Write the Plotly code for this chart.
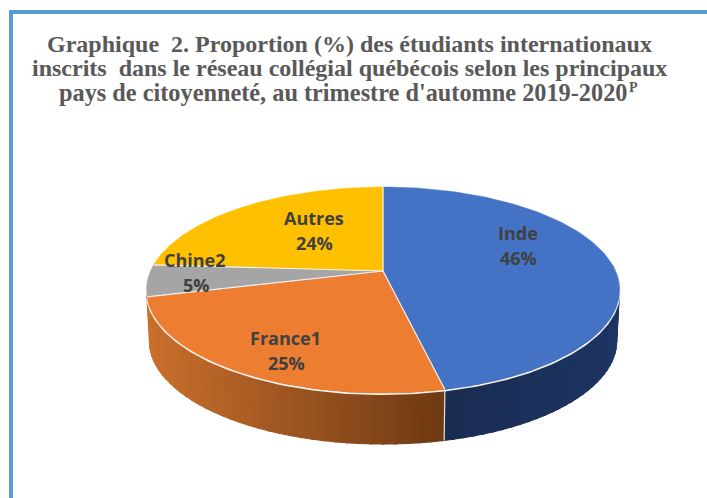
import numpy as np
import plotly.graph_objects as go

categories = ["Inde", "France1", "Chine2", "Autres"]
values = [46.5, 24.5, 5.0, 24.0]
labels_pct = ["46%", "25%", "5%", "24%"]
colors = ["#4472C4", "#ED7D31", "#A5A5A5", "#FFC000"]
name_pos = [(518, 233), (285, 338), (195, 260), (314, 218)]
pct_pos = [(518, 258), (286, 363), (196, 285), (314, 243)]
title_lines = [
    "Graphique  2. Proportion (%) des étudiants internationaux",
    "inscrits  dans le réseau collégial québécois selon les principaux",
    "pays de citoyenneté, au trimestre d'automne 2019-2020",
]
title_note = "P"
W, H = 707, 498
CX, CY, A, B, K = 383.0, 271.0, 232.5, 99.5, 0.185
DEPTH = 51.0


def rim(theta, d=0.0):
    u, v = np.sin(theta), np.cos(theta)
    w = 1 + K * v
    s = 1 - 0.012 * d / DEPTH
    x = CX + s * A * u / w
    y = CY - B * v / w + d
    return x, H - y


fig = go.Figure()


def poly(xs, ys, fill, lw=0.5):
    fig.add_trace(go.Scatter(
        x=list(xs), y=list(ys), mode="lines", fill="toself", fillcolor=fill,
        line=dict(color=fill, width=lw), hoverinfo="skip", showlegend=False))


def mix(a, b, t):
    ca = [int(a[i:i + 2], 16) for i in (1, 3, 5)]
    cb = [int(b[i:i + 2], 16) for i in (1, 3, 5)]
    return "rgb(%d,%d,%d)" % tuple(round(p + (q - p) * t) for p, q in zip(ca, cb))


total = sum(values)
edges = 2 * np.pi * np.cumsum([0] + values) / total

# side walls of the two slices that face the viewer, as thin shaded strips
wall_styles = {0: ("#1D3563", "#192C51"), 1: ("#C96F2C", "#6E3914")}
for i, (c0, c1) in wall_styles.items():
    t0, t1 = max(edges[i], np.pi / 2 - 0.05), edges[i + 1]
    n = 36
    ts = np.linspace(t0, t1, n + 1)
    for j in range(n):
        seg = np.linspace(ts[j], ts[j + 1] + 0.01, 4)
        x1, y1 = rim(seg)
        x2, y2 = rim(seg[::-1], DEPTH)
        xm = rim((ts[j] + ts[j + 1]) / 2)[0]
        if i == 1:
            color = mix(c0, c1, (xm - 148) / (443 - 148))
        else:
            color = mix(c1, c0, (xm - 443) / (619 - 443))
        poly(np.r_[x1, x2], np.r_[y1, y2], color, 1)

# white separation along the front rim and between the two walls
ts = np.linspace(np.pi / 2 - 0.05, edges[2], 200)
x, y = rim(ts)
fig.add_trace(go.Scatter(x=x, y=y - 1, mode="lines", line=dict(color="#F6F1EC", width=2),
                         hoverinfo="skip", showlegend=False))
xa, ya = rim(np.array([edges[1]]))
xb, yb = rim(np.array([edges[1]]), DEPTH)
fig.add_trace(go.Scatter(x=[xa[0], xb[0]], y=[ya[0], yb[0]], mode="lines",
                         line=dict(color="#E8E0DA", width=1.2), hoverinfo="skip", showlegend=False))

# top faces
ax, ay = CX, H - CY
for i, c in enumerate(colors):
    ts = np.linspace(edges[i], edges[i + 1], 120)
    x, y = rim(ts)
    poly(np.r_[ax, x, ax], np.r_[ay, y, ay], c)
for i in range(len(values)):
    x, y = rim(np.array([edges[i]]))
    fig.add_trace(go.Scatter(x=[ax, x[0]], y=[ay, y[0]], mode="lines",
                             line=dict(color="#F2F2F2", width=1.2), hoverinfo="skip", showlegend=False))

annotations = []
for texts, positions in ((categories, name_pos), (labels_pct, pct_pos)):
    for t, (lx, ly) in zip(texts, positions):
        annotations.append(dict(
            x=lx, y=H - ly, xref="x", yref="y", text=f"<b>{t}</b>",
            showarrow=False, font=dict(family="Open Sans", size=18, color="#404040")))
for line, yy, xx, fs in zip(title_lines, (44, 68, 92), (349, 349, 343), (24, 24, 24.3)):
    annotations.append(dict(
        x=xx, y=H - yy, xref="x", yref="y", text=f"<b>{line}</b>", showarrow=False,
        font=dict(family="Liberation Serif", size=fs, color="#595959")))
annotations.append(dict(
    x=633, y=H - 87, xref="x", yref="y", text=f"<b>{title_note}</b>", showarrow=False,
    font=dict(family="Liberation Serif", size=14, color="#595959")))

border = dict(color="#5B9BD5", width=4)
fig.update_layout(
    width=W, height=H, autosize=False, margin=dict(l=0, r=0, t=0, b=0),
    paper_bgcolor="white", plot_bgcolor="white", showlegend=False,
    xaxis=dict(range=[0, W], visible=False, fixedrange=True),
    yaxis=dict(range=[0, H], visible=False, fixedrange=True),
    annotations=annotations,
    shapes=[
        dict(type="line", xref="x", yref="y", x0=11, x1=11, y0=0, y1=H - 12, line=border),
        dict(type="line", xref="x", yref="y", x0=9, x1=W, y0=H - 12, y1=H - 12, line=border),
    ],
)
fig.write_html("out.html", config={"displayModeBar": False},
               post_script="document.body.style.margin='0';document.body.style.overflow='hidden';")
